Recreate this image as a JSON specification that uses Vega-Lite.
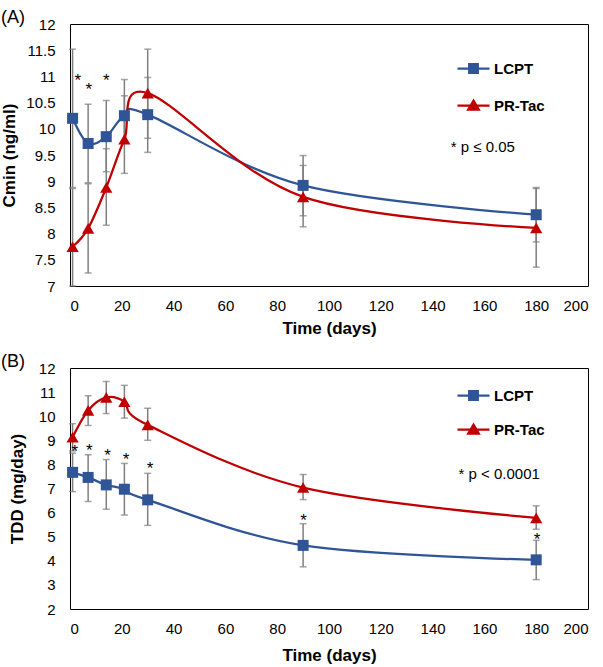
{
  "$schema": "https://vega.github.io/schema/vega-lite/v6.json",
  "padding": {"left": 0, "top": 8, "right": 2, "bottom": 2},
  "background": "white",
  "config": {
    "font": "Liberation Sans",
    "view": {"stroke": "#000000", "strokeWidth": 1},
    "axis": {
      "grid": false, "ticks": false, "tickSize": 0, "domain": false, "labelOverlap": false,
      "labelFont": "Liberation Sans", "labelFontSize": 15, "labelColor": "#000000",
      "titleFont": "Liberation Sans", "titleFontSize": 17, "titleFontWeight": "bold", "titleColor": "#000000"
    },
    "title": {"font": "Liberation Sans", "fontSize": 18, "fontWeight": "normal", "color": "#000000"},
    "legend": {"labelFont": "Liberation Sans"}
  },
  "datasets": {
    "a": [
      {"day": 1, "series": "LCPT", "mean": 10.2, "lo": 8.88, "hi": 11.52},
      {"day": 7, "series": "LCPT", "mean": 9.72, "lo": 8.97, "hi": 10.47},
      {"day": 14, "series": "LCPT", "mean": 9.85, "lo": 9.18, "hi": 10.54},
      {"day": 21, "series": "LCPT", "mean": 10.25, "lo": 9.74, "hi": 10.94},
      {"day": 30, "series": "LCPT", "mean": 10.27, "lo": 9.55, "hi": 10.98},
      {"day": 90, "series": "LCPT", "mean": 8.92, "lo": 8.34, "hi": 9.49},
      {"day": 180, "series": "LCPT", "mean": 8.36, "lo": 7.84, "hi": 8.88},
      {"day": 1, "series": "PR-Tac", "mean": 7.75, "lo": 6.65, "hi": 8.86},
      {"day": 7, "series": "PR-Tac", "mean": 8.1, "lo": 7.25, "hi": 8.95},
      {"day": 14, "series": "PR-Tac", "mean": 8.88, "lo": 8.16, "hi": 9.62},
      {"day": 21, "series": "PR-Tac", "mean": 9.8, "lo": 9.15, "hi": 10.63},
      {"day": 30, "series": "PR-Tac", "mean": 10.68, "lo": 9.82, "hi": 11.52},
      {"day": 90, "series": "PR-Tac", "mean": 8.7, "lo": 8.13, "hi": 9.3},
      {"day": 180, "series": "PR-Tac", "mean": 8.11, "lo": 7.36, "hi": 8.86}
    ],
    "a_stars": [
      {"day": 3, "mean": 10.99},
      {"day": 7.3, "mean": 10.82},
      {"day": 14, "mean": 10.99}
    ],
    "a_note": [{"day": 147, "mean": 9.65, "note": "* p ≤ 0.05"}],
    "b": [
      {"day": 1, "series": "LCPT", "mean": 7.67, "lo": 6.87, "hi": 8.47},
      {"day": 7, "series": "LCPT", "mean": 7.46, "lo": 6.46, "hi": 8.4},
      {"day": 14, "series": "LCPT", "mean": 7.15, "lo": 6.14, "hi": 8.2},
      {"day": 21, "series": "LCPT", "mean": 6.97, "lo": 5.9, "hi": 8.04},
      {"day": 30, "series": "LCPT", "mean": 6.53, "lo": 5.47, "hi": 7.63},
      {"day": 90, "series": "LCPT", "mean": 4.64, "lo": 3.75, "hi": 5.54},
      {"day": 180, "series": "LCPT", "mean": 4.04, "lo": 3.22, "hi": 4.85},
      {"day": 1, "series": "PR-Tac", "mean": 9.125, "lo": 8.56, "hi": 9.69},
      {"day": 7, "series": "PR-Tac", "mean": 10.24, "lo": 9.61, "hi": 10.85},
      {"day": 14, "series": "PR-Tac", "mean": 10.78, "lo": 10.11, "hi": 11.44},
      {"day": 21, "series": "PR-Tac", "mean": 10.6, "lo": 9.92, "hi": 11.28},
      {"day": 30, "series": "PR-Tac", "mean": 9.64, "lo": 9.0, "hi": 10.33},
      {"day": 90, "series": "PR-Tac", "mean": 7.04, "lo": 6.54, "hi": 7.58},
      {"day": 180, "series": "PR-Tac", "mean": 5.78, "lo": 5.31, "hi": 6.28}
    ],
    "b_stars": [
      {"day": 1.9, "mean": 8.7},
      {"day": 7.5, "mean": 8.76},
      {"day": 14.5, "mean": 8.54},
      {"day": 21.6, "mean": 8.35},
      {"day": 30.9, "mean": 8.0},
      {"day": 90.2, "mean": 5.82},
      {"day": 180.3, "mean": 5.06}
    ],
    "b_note": [{"day": 150, "mean": 7.59, "note": "* p < 0.0001"}]
  },
  "bounds": "flush",
  "spacing": 82,
  "resolve": {"scale": {"color": "independent", "shape": "independent", "y": "independent", "x": "independent"}, "legend": {"color": "independent", "shape": "independent"}, "axis": {"x": "independent", "y": "independent"}},
  "vconcat": [
    {
      "width": 518,
      "height": 262,
      "title": {"text": "(A)", "anchor": "start", "frame": "group", "dx": -69, "offset": -10},
      "data": {"name": "a"},
      "encoding": {
        "x": {"field": "day", "type": "quantitative", "scale": {"domain": [0, 200], "nice": false},
              "axis": {"title": "Time (days)", "values": [0, 20, 40, 60, 80, 100, 120, 140, 160, 180, 200], "labelPadding": 12, "titlePadding": 7}},
        "y": {"field": "mean", "type": "quantitative", "scale": {"domain": [7, 12], "clamp": true, "nice": false},
              "axis": {"title": "Cmin (ng/ml)", "values": [7, 7.5, 8, 8.5, 9, 9.5, 10, 10.5, 11, 11.5, 12], "format": "~g", "labelPadding": 15, "titlePadding": 7}}
      },
      "layer": [
        {
          "mark": {"type": "rule", "color": "#7F7F7F", "strokeWidth": 1.5},
          "encoding": {
            "y": {"field": "lo", "type": "quantitative", "scale": {"domain": [7, 12], "clamp": true, "nice": false},
                  "axis": {"title": "Cmin (ng/ml)", "values": [7, 7.5, 8, 8.5, 9, 9.5, 10, 10.5, 11, 11.5, 12], "format": "~g", "labelPadding": 15, "titlePadding": 7}},
            "y2": {"field": "hi"}
          }
        },
        {
          "mark": {"type": "tick", "orient": "horizontal", "color": "#7F7F7F", "thickness": 1.5, "size": 7},
          "encoding": {"y": {"field": "lo", "type": "quantitative", "scale": {"domain": [7, 12], "clamp": true, "nice": false},
                  "axis": {"title": "Cmin (ng/ml)", "values": [7, 7.5, 8, 8.5, 9, 9.5, 10, 10.5, 11, 11.5, 12], "format": "~g", "labelPadding": 15, "titlePadding": 7}}}
        },
        {
          "mark": {"type": "tick", "orient": "horizontal", "color": "#7F7F7F", "thickness": 1.5, "size": 7},
          "encoding": {"y": {"field": "hi", "type": "quantitative", "scale": {"domain": [7, 12], "clamp": true, "nice": false},
                  "axis": {"title": "Cmin (ng/ml)", "values": [7, 7.5, 8, 8.5, 9, 9.5, 10, 10.5, 11, 11.5, 12], "format": "~g", "labelPadding": 15, "titlePadding": 7}}}
        },
        {
          "mark": {"type": "line", "interpolate": "cardinal", "strokeWidth": 2.25},
          "encoding": {
            "color": {"field": "series", "type": "nominal", "scale": {"domain": ["LCPT", "PR-Tac"], "range": ["#2F5597", "#C00000"]},
              "legend": {"orient": "none", "legendX": 386, "legendY": 27, "title": null, "padding": 0,
                "labelFontSize": 15, "labelFontWeight": "bold", "labelColor": "#000000", "labelOffset": 3,
                "symbolSize": 1024, "rowPadding": 10, "symbolStrokeWidth": 2.25, "symbolOpacity": 1}
            }
          }
        },
        {
          "mark": {"type": "point", "filled": true, "opacity": 0, "size": 1},
          "encoding": {
            "color": {"field": "series", "type": "nominal", "scale": {"domain": ["LCPT", "PR-Tac"], "range": ["#2F5597", "#C00000"]}, "legend": null},
            "shape": {"field": "series", "type": "nominal", "scale": {"domain": ["LCPT", "PR-Tac"], "range": ["M-1,0L1,0M-0.27,-0.27L0.27,-0.27L0.27,0.27L-0.27,0.27Z", "M-1,0L1,0M0,-0.3L0.33,0.25L-0.33,0.25Z"]}, "legend": null}
          }
        },
        {
          "transform": [{"filter": "datum.series === 'LCPT'"}],
          "mark": {"type": "point", "filled": true, "opacity": 1, "size": 121, "shape": "square", "color": "#2F5597"}
        },
        {
          "transform": [{"filter": "datum.series === 'PR-Tac'"}],
          "mark": {"type": "point", "filled": true, "opacity": 1, "size": 150, "shape": "triangle-up", "color": "#C00000"}
        },
        {
          "data": {"name": "a_stars"},
          "mark": {"type": "text", "text": "*", "fontSize": 17, "baseline": "alphabetic", "dy": 9.5, "color": "#000000"}
        },
        {
          "data": {"name": "a_note"},
          "mark": {"type": "text", "align": "left", "baseline": "middle", "fontSize": 15, "color": "#000000"},
          "encoding": {"text": {"field": "note", "type": "nominal"}}
        }
      ]
    },
    {
      "width": 518,
      "height": 241,
      "title": {"text": "(B)", "anchor": "start", "frame": "group", "dx": -69, "offset": -10},
      "data": {"name": "b"},
      "encoding": {
        "x": {"field": "day", "type": "quantitative", "scale": {"domain": [0, 200], "nice": false},
              "axis": {"title": "Time (days)", "values": [0, 20, 40, 60, 80, 100, 120, 140, 160, 180, 200], "labelPadding": 12, "titlePadding": 11}},
        "y": {"field": "mean", "type": "quantitative", "scale": {"domain": [2, 12], "clamp": true, "nice": false},
              "axis": {"title": "TDD (mg/day)", "values": [2, 3, 4, 5, 6, 7, 8, 9, 10, 11, 12], "format": "~g", "labelPadding": 15, "titlePadding": 12}}
      },
      "layer": [
        {
          "mark": {"type": "rule", "color": "#7F7F7F", "strokeWidth": 1.5},
          "encoding": {
            "y": {"field": "lo", "type": "quantitative", "scale": {"domain": [2, 12], "clamp": true, "nice": false},
                  "axis": {"title": "TDD (mg/day)", "values": [2, 3, 4, 5, 6, 7, 8, 9, 10, 11, 12], "format": "~g", "labelPadding": 15, "titlePadding": 12}},
            "y2": {"field": "hi"}
          }
        },
        {
          "mark": {"type": "tick", "orient": "horizontal", "color": "#7F7F7F", "thickness": 1.5, "size": 7},
          "encoding": {"y": {"field": "lo", "type": "quantitative", "scale": {"domain": [2, 12], "clamp": true, "nice": false},
                  "axis": {"title": "TDD (mg/day)", "values": [2, 3, 4, 5, 6, 7, 8, 9, 10, 11, 12], "format": "~g", "labelPadding": 15, "titlePadding": 12}}}
        },
        {
          "mark": {"type": "tick", "orient": "horizontal", "color": "#7F7F7F", "thickness": 1.5, "size": 7},
          "encoding": {"y": {"field": "hi", "type": "quantitative", "scale": {"domain": [2, 12], "clamp": true, "nice": false},
                  "axis": {"title": "TDD (mg/day)", "values": [2, 3, 4, 5, 6, 7, 8, 9, 10, 11, 12], "format": "~g", "labelPadding": 15, "titlePadding": 12}}}
        },
        {
          "mark": {"type": "line", "interpolate": "cardinal", "strokeWidth": 2.25},
          "encoding": {
            "color": {"field": "series", "type": "nominal", "scale": {"domain": ["LCPT", "PR-Tac"], "range": ["#2F5597", "#C00000"]},
              "legend": {"orient": "none", "legendX": 386, "legendY": 10, "title": null, "padding": 0,
                "labelFontSize": 15, "labelFontWeight": "bold", "labelColor": "#000000", "labelOffset": 3,
                "symbolSize": 1024, "rowPadding": 7, "symbolStrokeWidth": 2.25, "symbolOpacity": 1}
            }
          }
        },
        {
          "mark": {"type": "point", "filled": true, "opacity": 0, "size": 1},
          "encoding": {
            "color": {"field": "series", "type": "nominal", "scale": {"domain": ["LCPT", "PR-Tac"], "range": ["#2F5597", "#C00000"]}, "legend": null},
            "shape": {"field": "series", "type": "nominal", "scale": {"domain": ["LCPT", "PR-Tac"], "range": ["M-1,0L1,0M-0.27,-0.27L0.27,-0.27L0.27,0.27L-0.27,0.27Z", "M-1,0L1,0M0,-0.3L0.33,0.25L-0.33,0.25Z"]}, "legend": null}
          }
        },
        {
          "transform": [{"filter": "datum.series === 'LCPT'"}],
          "mark": {"type": "point", "filled": true, "opacity": 1, "size": 121, "shape": "square", "color": "#2F5597"}
        },
        {
          "transform": [{"filter": "datum.series === 'PR-Tac'"}],
          "mark": {"type": "point", "filled": true, "opacity": 1, "size": 150, "shape": "triangle-up", "color": "#C00000"}
        },
        {
          "data": {"name": "b_stars"},
          "mark": {"type": "text", "text": "*", "fontSize": 17, "baseline": "alphabetic", "dy": 9.5, "color": "#000000"}
        },
        {
          "data": {"name": "b_note"},
          "mark": {"type": "text", "align": "left", "baseline": "middle", "fontSize": 15, "color": "#000000"},
          "encoding": {"text": {"field": "note", "type": "nominal"}}
        }
      ]
    }
  ]
}
